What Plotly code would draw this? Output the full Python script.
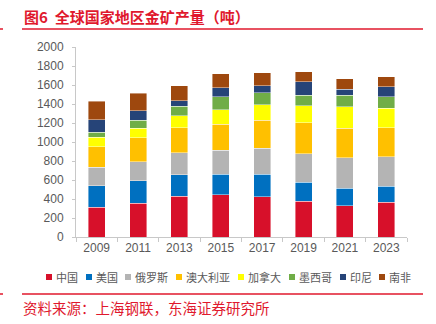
import plotly.graph_objects as go

years = ["2009", "2011", "2013", "2015", "2017", "2019", "2021", "2023"]
series_names = ["中国", "美国", "俄罗斯", "澳大利亚", "加拿大", "墨西哥", "印尼", "南非"]
china = [315, 357, 427, 445, 424, 375, 329, 364]
usa = [224, 235, 228, 214, 235, 199, 182, 172]
russia = [193, 200, 231, 252, 273, 302, 323, 308]
australia = [217, 255, 263, 277, 298, 326, 311, 308]
canada = [102, 98, 130, 154, 164, 178, 225, 204]
mexico = [52, 85, 98, 136, 126, 112, 122, 119]
indonesia = [130, 98, 59, 95, 74, 140, 63, 108]
south_africa = [196, 185, 158, 147, 136, 105, 109, 102]
y_ticks = [0, 200, 400, 600, 800, 1000, 1200, 1400, 1600, 1800, 2000]

values = [china, usa, russia, australia, canada, mexico, indonesia, south_africa]
colors = ["#d7102a", "#0070c0", "#b4b4b4", "#ffc000", "#ffff00", "#70ad47", "#264478", "#9e480e"]

W, H = 436, 324
ML, MR, MT, MB = 76, 29, 47, 87
PW, PH = W - ML - MR, H - MT - MB

def px(x):
    return (x - ML) / PW

def py(y):
    return (H - MB - y) / PH

RED = "#e0182d"
GRAY = "#595959"
FONT = "Liberation Sans, Arial, Noto Sans CJK SC, sans-serif"
CJK = "Noto Sans CJK SC, sans-serif"

fig = go.Figure()
for name, vals, col in zip(series_names, values, colors):
    fig.add_trace(go.Bar(x=years, y=vals, name=name, marker=dict(color=col, line=dict(color="rgba(255,255,255,0.7)", width=0.6)), showlegend=False))

shapes = []
annotations = []
# title
annotations.append(dict(text="<b>图6  全球国家地区金矿产量（吨）</b>", x=px(22), y=py(17), xref="paper", yref="paper",
                        xanchor="left", yanchor="middle", showarrow=False, font=dict(family=CJK, size=15, color=RED)))
shapes.append(dict(type="line", xref="paper", yref="paper", x0=px(22), x1=px(423), y0=py(29), y1=py(29), line=dict(color=RED, width=1.5)))
shapes.append(dict(type="line", xref="paper", yref="paper", x0=px(0), x1=px(3), y0=py(29), y1=py(29), line=dict(color=RED, width=1.5)))
# source
shapes.append(dict(type="line", xref="paper", yref="paper", x0=px(22), x1=px(423), y0=py(294), y1=py(294), line=dict(color=RED, width=1.5)))
shapes.append(dict(type="line", xref="paper", yref="paper", x0=px(0), x1=px(3), y0=py(294), y1=py(294), line=dict(color=RED, width=1.5)))
annotations.append(dict(text="资料来源：上海钢联，东海证券研究所", x=px(21), y=py(307), xref="paper", yref="paper",
                        xanchor="left", yanchor="middle", showarrow=False, font=dict(family=CJK, size=14.5, color=RED)))
# legend
leg_x = [46, 86, 125, 176, 238, 289, 340, 379]
leg_y = 277
for name, col, lx in zip(series_names, colors, leg_x):
    shapes.append(dict(type="rect", xref="paper", yref="paper", x0=px(lx), x1=px(lx + 6), y0=py(leg_y - 3), y1=py(leg_y + 3),
                       fillcolor=col, line=dict(width=0)))
    annotations.append(dict(text=name, x=px(lx + 8), y=py(leg_y), xref="paper", yref="paper", xanchor="left", yanchor="middle",
                            showarrow=False, font=dict(family=CJK, size=11, color=GRAY)))

fig.update_layout(
    width=W, height=H, margin=dict(l=ML, r=MR, t=MT, b=MB),
    paper_bgcolor="white", plot_bgcolor="white",
    barmode="stack", bargap=0.59,
    shapes=shapes, annotations=annotations,
    font=dict(family=FONT, color=GRAY),
)
fig.update_xaxes(type="category", showline=True, linecolor="#c8c8c8", linewidth=1, ticks="outside", tickson="boundaries",
                 ticklen=4, tickcolor="#c8c8c8", tickfont=dict(size=12, color=GRAY, family=FONT), showgrid=False)
fig.update_yaxes(range=[0, 2000], tickvals=y_ticks, showline=True, linecolor="#c8c8c8", linewidth=1, ticks="outside",
                 ticklen=3, tickcolor="#c8c8c8", tickfont=dict(size=12, color=GRAY, family=FONT), showgrid=False,
                 zeroline=False, ticklabelstandoff=6)

fig.write_html("out.html")
